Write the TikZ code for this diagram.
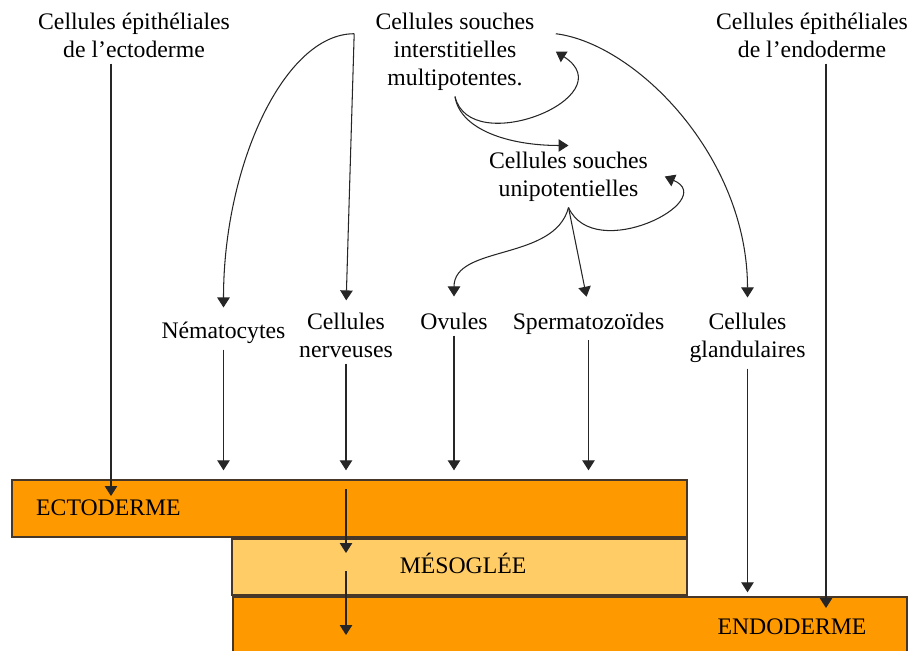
\documentclass[tikz,border=0pt]{standalone}
\usepackage{fontspec}
\setmainfont{Liberation Serif}
\usetikzlibrary{arrows.meta}
\usetikzlibrary{fit}

\definecolor{orangecouche}{RGB}{255,153,0}
\definecolor{orangemeso}{RGB}{255,204,102}
\definecolor{bord}{RGB}{70,55,40}

\tikzset{
  texte/.style={font=\fontsize{13.5}{16}\selectfont, align=center},
  fleche/.style={-{Triangle[length=2mm, width=2.5mm]}, line width=0.6pt, draw=black!85},
  couche/.style={draw=bord, line width=0.8pt, inner sep=0pt},
}

\begin{document}
\begin{tikzpicture}[x=0.02cm, y=-0.02cm]
\useasboundingbox (0,0) rectangle (913,650);
% couches
\node[couche, fill=orangecouche, fit={(12,480) (687,537)}] (ectoderme) {};
\node[couche, fill=orangemeso, fit={(232,539) (687,595)}] (mesoglee) {};
\node[couche, fill=orangecouche, fit={(233,597) (907,670)}] (endoderme) {};
\node[texte, anchor=west] (tecto) at (30,508) {ECTODERME};
\node[texte] (tmeso) at (463,563) {MÉSOGLÉE};
\node[texte] (tendo) at (792,627) {ENDODERME};

% cellules
\node[texte] (epiecto) at (134,35) {Cellules épithéliales\\de l’ectoderme};
\node[texte] (epiendo) at (812,35) {Cellules épithéliales\\de l’endoderme};
\node[texte, inner xsep=12pt] (multi) at (455,51.5) {Cellules souches\\interstitielles\\multipotentes.};
\node[texte, inner xsep=9.4pt] (uni) at (568.5,176.5) {Cellules souches\\unipotentielles};
\node[texte] (nema) at (223.5,332.5) {Nématocytes};
\node[texte] (nerv) at (346,335) {Cellules\\nerveuses};
\node[texte] (ovules) at (454,321) {Ovules};
\node[texte] (sperm) at (588.5,323.5) {Spermatozoïdes};
\node[texte] (gland) at (747.5,337.5) {Cellules\\glandulaires};

\coordinate (ectoin) at (111,496);
\coordinate (endoin) at (826,608);
\coordinate (n1) at (346,489);
\coordinate (n2) at (346,553);
\coordinate (n3) at (346,571);
\coordinate (n4) at (346,635);

% filiations
\draw[fleche, shorten >=0.16cm] (multi.170) .. controls +(-70,0) and +(0,-150) .. (nema.north);
\draw[fleche, shorten >=0.12cm] (multi.170) -- (nerv.north);
\draw[fleche, shorten >=0.18cm] (multi.10) .. controls +(80,10) and +(0,-150) .. (gland.north);
\draw[fleche] (multi.south) .. controls +(15,63) and +(70,45) .. (multi.east);
\draw[fleche] (multi.south) .. controls +(5,33) and +(-60,0) .. (uni.north);
\draw[fleche] (uni.south) .. controls +(26,57) and +(55,24) .. (uni.east);
\draw[fleche, shorten >=0.2cm] (uni.south) .. controls +(-14,54) and +(0,-62) .. (ovules.north);
\draw[fleche, shorten >=0.2cm] (uni.south) -- (sperm.north);

% vers les couches
\draw[fleche] (epiecto.south -| ectoin) -- (ectoin);
\draw[fleche] (epiendo.south -| endoin) -- (endoin);
\draw[fleche, shorten >=0.18cm] (nema.south) -- (nema.south |- ectoderme.north);
\draw[fleche, shorten >=0.18cm] (nerv.south) -- (nerv.south |- ectoderme.north);
\draw[fleche, shorten >=0.18cm] (ovules.south) -- (ovules.south |- ectoderme.north);
\draw[fleche, shorten >=0.18cm] (sperm.south) -- (sperm.south |- ectoderme.north);
\draw[fleche, shorten >=0.08cm] (gland.south) -- (gland.south |- endoderme.north);
\draw[fleche] (n1) -- (n2);
\draw[fleche] (n3) -- (n4);
\end{tikzpicture}
\end{document}
